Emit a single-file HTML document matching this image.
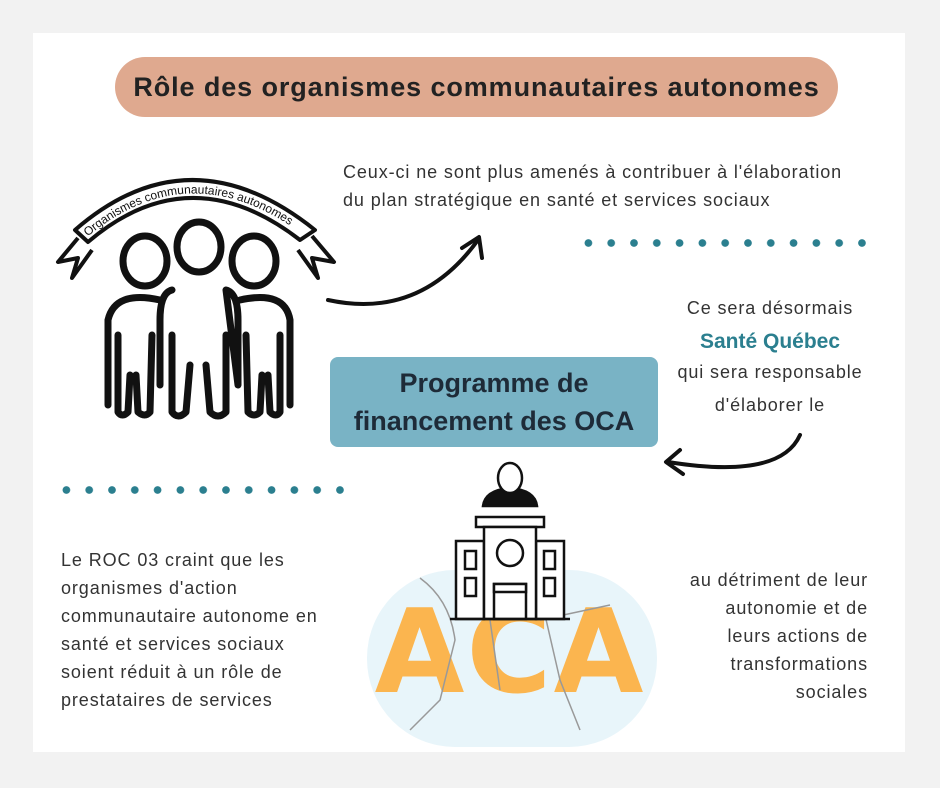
<!DOCTYPE html>
<html><head><meta charset="utf-8"><style>
body{margin:0;width:940px;height:788px;background:#f2f2f2;position:relative;overflow:hidden;font-family:"Liberation Sans",sans-serif;color:#333}
.card{position:absolute;left:33px;top:33px;width:872px;height:719px;background:#fff}
.t{position:absolute;font-size:18px;letter-spacing:0.9px;line-height:28px;color:#333;white-space:nowrap}
.dots{position:absolute;height:8px;background-image:radial-gradient(circle,#2b7f8f 3.6px,transparent 4px);background-size:22.8px 8px}
</style></head><body>
<div class="card"></div>
<div style="position:absolute;left:115px;top:57px;width:723px;height:60px;border-radius:30px;background:#dfa98f;text-align:center;line-height:60px;font-size:27px;letter-spacing:0.9px;font-weight:bold;color:#222">Rôle des organismes communautaires autonomes</div>
<div class="t" style="left:343px;top:158px">Ceux-ci ne sont plus amenés à contribuer à l'élaboration<br>du plan stratégique en santé et services sociaux</div>
<div class="dots" style="left:577px;top:239px;width:296px"></div>
<div class="dots" style="left:55px;top:486px;width:296px"></div>
<div class="t" style="left:660px;width:220px;text-align:center;top:294px">Ce sera désormais</div>
<div style="position:absolute;left:660px;width:220px;text-align:center;top:330px;font-size:21px;font-weight:bold;color:#2b7f8f">Santé Québec</div>
<div class="t" style="left:660px;width:220px;text-align:center;top:358px">qui sera responsable</div>
<div class="t" style="left:660px;width:220px;text-align:center;top:391px">d'élaborer le</div>
<div style="position:absolute;left:330px;top:357px;width:328px;height:90px;border-radius:8px;background:#79b3c5;text-align:center;font-size:27px;font-weight:bold;line-height:38px;padding-top:7px;box-sizing:border-box;color:#1e2b38">Programme de<br>financement des OCA</div>
<div class="t" style="left:61px;top:546px">Le ROC 03 craint que les<br>organismes d'action<br>communautaire autonome en<br>santé et services sociaux<br>soient réduit à un rôle de<br>prestataires de services</div>
<div class="t" style="left:600px;width:268px;text-align:right;top:566px">au détriment de leur<br>autonomie et de<br>leurs actions de<br>transformations<br>sociales</div>
<svg width="940" height="788" style="position:absolute;left:0;top:0">
<g fill="none" stroke="#111" stroke-width="4" stroke-linecap="round" stroke-linejoin="round">
<path d="M328 300 Q420 320 478 240"/><path d="M462 248 L479 237 L482 258"/>
<path d="M800 435 Q780 480 668 462"/><path d="M680 450 L666 462 L683 474"/>
</g>
<g fill="none" stroke="#111" stroke-width="4" stroke-linejoin="round">
<path d="M75 230 Q190 130 315 230 L300 240 Q190 155 88 242 Z" fill="#fff"/>
<path d="M78 238 L58 262 L78 258 L72 278 L92 250"/>
<path d="M312 236 L334 262 L312 258 L318 278 L298 250"/>
</g>
<path id="arc" d="M86 238 Q190 150 305 236" fill="none"/>
<text font-size="12" fill="#111"><textPath href="#arc" startOffset="2">Organismes communautaires autonomes</textPath></text>
<g fill="none" stroke="#111" stroke-width="7" stroke-linecap="round" stroke-linejoin="round">
<ellipse cx="145" cy="261" rx="22" ry="25"/><ellipse cx="199" cy="247" rx="22" ry="25"/><ellipse cx="254" cy="261" rx="22" ry="25"/>
<path d="M160 300 Q115 290 108 320 L108 405 M118 335 L118 412 Q122 418 128 412 L130 375 M136 375 L138 412 Q145 418 150 412 L152 335"/>
<path d="M240 300 Q285 290 290 320 L290 405 M280 335 L280 412 Q276 418 270 412 L268 375 M262 375 L260 412 Q254 418 248 412 L246 335"/>
<path d="M172 290 Q160 293 160 320 L160 385 M172 335 L172 412 Q178 420 186 412 L190 365 M206 365 L210 412 Q218 420 226 412 L226 335 M238 385 L238 320 Q238 293 226 290 Z"/>
</g>
<rect x="367" y="570" width="290" height="177" rx="88" fill="#e8f5fa"/>
<text x="510" y="692" text-anchor="middle" font-size="116" font-weight="bold" fill="#fbb54f" font-family="DejaVu Sans,sans-serif" letter-spacing="2">ACA</text>
<g fill="none" stroke="#999" stroke-width="1.5"><path d="M420 578 Q450 600 455 640 L440 700 L410 730 M490 620 L500 690 M545 615 L560 680 L580 730 M540 620 L610 605"/></g>
<g fill="#fff" stroke="#111" stroke-width="2.5">
<path d="M483 506 Q485 490 510 488 Q535 490 537 506 Z" fill="#111"/>
<ellipse cx="510" cy="478" rx="12" ry="15"/>
<rect x="476" y="517" width="68" height="10"/>
<rect x="456" y="541" width="28" height="78"/><rect x="536" y="541" width="28" height="78"/>
<rect x="484" y="527" width="52" height="92"/>
<circle cx="510" cy="553" r="13"/>
<rect x="494" y="584" width="32" height="35"/><rect x="494" y="584" width="32" height="8"/>
<rect x="465" y="551" width="11" height="18"/><rect x="465" y="578" width="11" height="18"/>
<rect x="544" y="551" width="11" height="18"/><rect x="544" y="578" width="11" height="18"/>
<line x1="450" y1="619" x2="570" y2="619"/>
</g>
</svg>
</body></html>
